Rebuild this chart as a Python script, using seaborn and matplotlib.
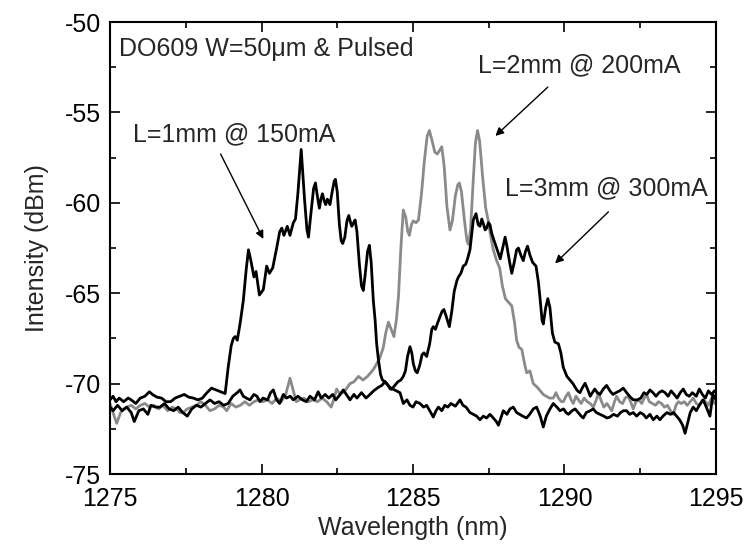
import matplotlib
matplotlib.use("Agg")
import matplotlib.pyplot as plt
import numpy as np
import pandas as pd
import seaborn as sns

# --- Spectra (wavelength in nm, intensity in dBm) ---
wl_1mm = [1275.0, 1275.1, 1275.2, 1275.3, 1275.45, 1275.6, 1275.7, 1275.85, 1276.0, 1276.15,
          1276.3, 1276.4, 1276.55, 1276.7, 1276.85, 1277.0, 1277.15, 1277.3, 1277.45, 1277.6,
          1277.75, 1277.9, 1278.05, 1278.2, 1278.35, 1278.5, 1278.65, 1278.8, 1278.9, 1279.0,
          1279.07, 1279.13, 1279.2, 1279.3, 1279.4, 1279.5, 1279.57, 1279.65, 1279.75, 1279.82,
          1279.93, 1280.06, 1280.17, 1280.26, 1280.37, 1280.5, 1280.6, 1280.67, 1280.74, 1280.85,
          1280.94, 1281.05, 1281.12, 1281.2, 1281.31, 1281.42, 1281.5, 1281.55, 1281.63, 1281.72,
          1281.78, 1281.85, 1281.91, 1281.96, 1282.01, 1282.07, 1282.12, 1282.17, 1282.21, 1282.26,
          1282.32, 1282.4, 1282.44, 1282.5, 1282.57, 1282.63, 1282.68, 1282.75, 1282.82, 1282.88,
          1282.94, 1282.98, 1283.04, 1283.09, 1283.15, 1283.23, 1283.3, 1283.36, 1283.42, 1283.5,
          1283.56, 1283.62, 1283.69, 1283.75, 1283.8, 1283.86, 1283.93, 1283.99, 1284.08, 1284.18,
          1284.25, 1284.33, 1284.45, 1284.57, 1284.68, 1284.8, 1284.9, 1285.0, 1285.1, 1285.23,
          1285.35, 1285.45, 1285.55, 1285.67, 1285.76, 1285.84, 1285.95, 1286.05, 1286.15, 1286.25,
          1286.4, 1286.55, 1286.65, 1286.75, 1286.88, 1286.99, 1287.1, 1287.21, 1287.32, 1287.43,
          1287.54, 1287.65, 1287.75, 1287.82, 1287.9, 1287.98, 1288.1, 1288.2, 1288.31, 1288.42,
          1288.52, 1288.62, 1288.75, 1288.85, 1288.97, 1289.08, 1289.2, 1289.3, 1289.4, 1289.52,
          1289.63, 1289.75, 1289.85, 1289.97, 1290.05, 1290.13, 1290.25, 1290.35, 1290.45, 1290.55,
          1290.62, 1290.72, 1290.85, 1290.95, 1291.05, 1291.17, 1291.3, 1291.4, 1291.5, 1291.62,
          1291.75, 1291.85, 1291.95, 1292.05, 1292.15, 1292.27, 1292.38, 1292.5, 1292.6, 1292.7,
          1292.82, 1292.93, 1293.05, 1293.15, 1293.25, 1293.38, 1293.5, 1293.6, 1293.7, 1293.8,
          1293.9, 1293.98, 1294.06, 1294.15, 1294.25, 1294.35, 1294.45, 1294.58, 1294.68, 1294.8,
          1294.9, 1295.0]
db_1mm = [-70.9, -70.7, -71.0, -70.8, -71.0, -70.8, -70.9, -71.1, -70.8, -70.7,
          -70.45, -70.6, -70.75, -70.8, -71.0, -71.0, -70.8, -70.7, -70.6, -70.75,
          -70.8, -70.9, -70.8, -70.5, -70.25, -70.35, -70.45, -70.55, -69.1, -67.9,
          -67.5, -67.4, -67.6, -66.6, -65.4, -63.6, -62.6, -63.2, -64.1, -63.8,
          -65.1, -64.8, -63.5, -63.9, -63.6, -62.5, -61.6, -61.4, -61.8, -61.3,
          -61.8, -61.1, -60.9, -59.5, -57.05, -59.8, -61.5, -61.9, -60.6, -59.2,
          -58.9, -59.7, -60.3, -59.8, -59.5, -59.9, -60.1, -59.8, -59.9, -60.1,
          -59.5, -58.8, -58.7, -59.4, -61.2, -62.1, -62.25, -61.9, -61.0, -60.7,
          -61.1, -61.3, -61.1, -60.95, -61.6, -63.4, -64.6, -64.85, -64.0, -62.7,
          -62.35, -63.3, -65.4, -66.5, -67.8, -68.7, -69.5, -69.8, -69.9, -70.1,
          -70.3, -70.3, -70.4, -70.5, -71.1, -70.9, -71.2, -71.3, -71.0, -71.1,
          -71.3, -71.2, -71.5, -71.85, -71.5, -71.3, -71.5, -71.2, -71.3, -71.1,
          -71.25, -70.9, -71.2, -71.3, -71.6, -71.7, -71.8, -72.0, -71.8, -71.9,
          -71.7, -71.9, -72.1, -72.3, -71.9, -71.5, -71.7, -71.4, -71.3, -71.6,
          -71.7, -71.8, -71.9, -71.7, -71.4, -71.3, -71.8, -72.4, -71.8, -71.4,
          -71.1, -71.3, -71.5, -71.4, -71.6, -71.7, -71.5, -71.4, -71.6, -71.8,
          -71.9, -71.6, -71.5, -71.4, -71.6, -71.7, -71.8, -71.9, -71.85, -71.7,
          -71.8, -71.6, -71.5, -71.5, -71.7, -71.6, -71.8, -71.6, -71.7, -71.9,
          -71.7, -72.0, -71.8, -72.0, -71.8, -71.6, -71.7, -71.6, -71.8, -72.0,
          -72.3, -72.75, -72.2, -71.6, -71.3, -71.5, -71.2, -70.9, -71.3, -71.8,
          -70.6, -70.9]

wl_2mm = [1275.0, 1275.1, 1275.22, 1275.35, 1275.45, 1275.55, 1275.7, 1275.85, 1276.0, 1276.15,
          1276.3, 1276.45, 1276.6, 1276.75, 1276.9, 1277.05, 1277.2, 1277.3, 1277.42, 1277.55,
          1277.7, 1277.85, 1278.0, 1278.15, 1278.3, 1278.45, 1278.6, 1278.75, 1278.85, 1279.0,
          1279.15, 1279.3, 1279.45, 1279.6, 1279.75, 1279.9, 1280.05, 1280.2, 1280.35, 1280.5,
          1280.65, 1280.8, 1280.94, 1281.05, 1281.15, 1281.25, 1281.4, 1281.55, 1281.7, 1281.85,
          1282.0, 1282.15, 1282.3, 1282.4, 1282.48, 1282.6, 1282.75, 1282.92, 1283.05, 1283.2,
          1283.35, 1283.5, 1283.6, 1283.7, 1283.8, 1283.9, 1284.02, 1284.1, 1284.19, 1284.28,
          1284.37, 1284.45, 1284.52, 1284.6, 1284.68, 1284.76, 1284.83, 1284.88, 1284.95, 1285.01,
          1285.1, 1285.18, 1285.28, 1285.38, 1285.47, 1285.54, 1285.62, 1285.72, 1285.8, 1285.88,
          1285.95, 1286.03, 1286.12, 1286.22, 1286.3, 1286.4, 1286.48, 1286.53, 1286.6, 1286.7,
          1286.78, 1286.83, 1286.9, 1286.98, 1287.06, 1287.13, 1287.2, 1287.3, 1287.4, 1287.48,
          1287.56, 1287.65, 1287.76, 1287.86, 1287.95, 1288.05, 1288.15, 1288.26, 1288.35, 1288.42,
          1288.5, 1288.59, 1288.67, 1288.75, 1288.86, 1288.97, 1289.1, 1289.2, 1289.3, 1289.4,
          1289.5, 1289.63, 1289.72, 1289.8, 1289.9, 1289.96, 1290.05, 1290.13, 1290.22, 1290.29,
          1290.38, 1290.46, 1290.55, 1290.65, 1290.75, 1290.85, 1290.95, 1291.05, 1291.12, 1291.2,
          1291.3, 1291.4, 1291.48, 1291.56, 1291.65, 1291.72, 1291.82, 1291.92, 1292.0, 1292.1,
          1292.18, 1292.27, 1292.36, 1292.45, 1292.55, 1292.63, 1292.71, 1292.8, 1292.9, 1293.0,
          1293.1, 1293.2, 1293.3, 1293.4, 1293.5, 1293.59, 1293.68, 1293.76, 1293.85, 1293.95,
          1294.05, 1294.15, 1294.25, 1294.35, 1294.45, 1294.55, 1294.65, 1294.75, 1294.85, 1294.95,
          1295.0]
db_2mm = [-71.1, -71.6, -72.2, -71.6, -71.4, -71.3, -71.2, -71.4, -71.2, -71.1,
          -71.3, -71.2, -71.4, -71.2, -71.5, -71.3, -71.4, -71.6, -71.6, -71.4,
          -71.3, -71.2, -71.0, -71.2, -71.5, -71.4, -71.2, -71.3, -71.5, -71.1,
          -71.3, -71.2, -71.0, -71.2, -71.0, -70.9, -71.0, -70.9, -71.1, -70.8,
          -71.0, -70.6, -69.7, -70.4, -71.0, -70.9, -70.8, -71.0, -70.9, -71.0,
          -70.8, -71.0, -71.3, -70.8, -70.3, -70.6, -70.4, -70.0, -69.9, -69.6,
          -69.8, -69.6, -69.4, -69.2, -68.9, -68.6, -68.0, -67.2, -66.6, -67.0,
          -67.4, -66.5, -65.2, -62.5, -60.4, -60.8, -61.6, -61.8, -61.2, -61.0,
          -61.1, -60.95, -59.5, -57.6, -56.3, -56.0, -56.5, -57.2, -57.3, -57.1,
          -56.9, -58.0, -60.2, -61.5, -61.0, -59.6, -59.0, -58.9, -59.4, -61.0,
          -62.1, -62.3, -61.5, -59.0, -56.7, -56.0, -56.6, -58.6, -60.3, -60.95,
          -61.8, -62.6, -63.2, -63.6, -64.6, -65.3, -65.5, -65.7, -66.6, -67.6,
          -68.0, -68.1, -68.8, -69.4, -69.3, -70.0, -70.2, -70.4, -70.6, -70.7,
          -70.8, -70.8, -70.5, -70.8, -71.0, -71.0, -70.7, -70.5, -70.9, -71.1,
          -70.7, -70.9, -71.1, -70.8, -71.0, -71.1, -71.3, -70.9, -70.5, -70.9,
          -71.3, -71.1, -71.3, -71.5, -71.0, -70.7, -71.0, -71.1, -70.8, -70.7,
          -71.0, -71.4, -71.0, -70.9, -71.1, -70.8, -70.6, -71.0, -71.1, -71.2,
          -71.0, -71.1, -71.3, -71.2, -71.5, -71.7, -71.2, -71.0, -71.1, -71.0,
          -71.2, -71.0, -70.8, -71.1, -71.2, -70.9, -71.0, -71.2, -70.8, -71.1,
          -71.0]

wl_3mm = [1275.0, 1275.1, 1275.25, 1275.4, 1275.55, 1275.7, 1275.8, 1275.95, 1276.1, 1276.25,
          1276.35, 1276.5, 1276.65, 1276.8, 1276.95, 1277.1, 1277.25, 1277.4, 1277.55, 1277.7,
          1277.85, 1278.0, 1278.15, 1278.3, 1278.45, 1278.6, 1278.75, 1278.9, 1279.05, 1279.2,
          1279.29, 1279.4, 1279.5, 1279.62, 1279.75, 1279.85, 1279.95, 1280.05, 1280.2, 1280.3,
          1280.39, 1280.5, 1280.6, 1280.72, 1280.82, 1280.95, 1281.05, 1281.2, 1281.35, 1281.48,
          1281.6, 1281.75, 1281.87, 1281.97, 1282.1, 1282.22, 1282.35, 1282.45, 1282.55, 1282.7,
          1282.8, 1282.92, 1283.05, 1283.15, 1283.3, 1283.45, 1283.58, 1283.7, 1283.86, 1283.97,
          1284.08, 1284.18, 1284.3, 1284.4, 1284.5, 1284.6, 1284.68, 1284.75, 1284.82, 1284.9,
          1284.96, 1285.01, 1285.08, 1285.14, 1285.22, 1285.3, 1285.36, 1285.45, 1285.55, 1285.62,
          1285.67, 1285.74, 1285.8, 1285.89, 1285.96, 1286.02, 1286.1, 1286.2, 1286.28, 1286.36,
          1286.45, 1286.5, 1286.58, 1286.66, 1286.74, 1286.8, 1286.88, 1286.94, 1286.99, 1287.08,
          1287.15, 1287.21, 1287.27, 1287.33, 1287.38, 1287.43, 1287.49, 1287.54, 1287.6, 1287.67,
          1287.74, 1287.82, 1287.88, 1287.96, 1288.04, 1288.1, 1288.18, 1288.26, 1288.34, 1288.42,
          1288.48, 1288.56, 1288.64, 1288.71, 1288.78, 1288.86, 1288.95, 1289.06, 1289.14, 1289.2,
          1289.26, 1289.3, 1289.38, 1289.45, 1289.52, 1289.6, 1289.68, 1289.8, 1289.88, 1289.96,
          1290.08, 1290.18, 1290.28, 1290.35, 1290.43, 1290.51, 1290.6, 1290.68, 1290.76, 1290.85,
          1290.92, 1291.0, 1291.08, 1291.17, 1291.28, 1291.39, 1291.5, 1291.6, 1291.7, 1291.82,
          1291.94, 1292.05, 1292.15, 1292.27, 1292.4, 1292.52, 1292.62, 1292.72, 1292.82, 1292.92,
          1293.02, 1293.12, 1293.22, 1293.32, 1293.42, 1293.52, 1293.62, 1293.72, 1293.82, 1293.92,
          1294.02, 1294.12, 1294.22, 1294.35, 1294.45, 1294.55, 1294.65, 1294.75, 1294.85, 1294.95,
          1295.0]
db_3mm = [-71.3, -71.5, -71.2, -71.5, -71.3, -71.6, -72.1, -71.5, -71.4, -71.7,
          -71.2, -71.3, -71.3, -71.1, -71.4, -71.5, -71.3, -71.6, -71.8, -71.4,
          -71.2, -71.3, -71.1, -70.9, -71.1, -71.0, -71.2, -71.1, -70.7, -70.5,
          -70.35, -70.7, -70.8, -70.9, -70.6, -70.7, -71.0, -70.8, -70.9, -70.5,
          -70.35, -70.9, -71.1, -70.6, -70.8, -70.7, -70.9, -70.7, -70.9, -71.0,
          -70.7, -70.9, -70.45, -70.8, -70.6, -70.8, -70.6, -70.9, -70.7, -70.35,
          -70.6, -70.9, -70.6, -70.8, -70.5, -70.8, -70.6, -70.4, -70.2, -70.1,
          -69.9, -70.1, -70.3, -70.1, -69.9, -69.8, -69.6, -69.3, -68.5, -67.96,
          -68.3, -68.9, -69.3, -69.4, -69.0, -68.4, -68.3, -68.5, -67.8, -67.0,
          -66.85, -67.0, -66.7, -66.3, -66.0, -65.9, -66.3, -66.85, -66.0, -64.9,
          -64.3, -64.1, -63.9, -63.5, -63.4, -63.1, -62.6, -61.7, -60.95, -60.6,
          -61.2, -61.3, -60.9, -61.2, -61.5, -61.4, -61.1, -61.2, -61.7, -62.06,
          -62.4, -62.8, -63.1, -62.5, -61.9, -62.4, -63.2, -63.9, -63.3, -62.6,
          -62.5, -62.9, -63.2, -62.7, -62.4, -62.9, -63.3, -63.5, -64.4, -65.4,
          -66.5, -66.7, -65.8, -65.3, -65.8, -67.2, -67.7, -67.8, -68.3, -69.1,
          -69.6, -69.8, -70.0, -70.2, -70.4, -70.5, -70.2, -69.98, -70.3, -70.7,
          -70.5, -70.3, -70.5, -70.6, -70.3, -70.1, -70.4, -70.6, -70.5, -70.4,
          -70.25, -70.5, -70.7, -70.9, -70.9, -70.8, -70.5, -70.6, -70.35, -70.5,
          -70.7, -70.5, -70.4, -70.5, -70.7, -70.4, -70.6, -70.8, -70.5, -70.3,
          -70.6, -70.7, -70.5, -70.7, -70.3, -70.6, -70.8, -70.4, -70.6, -70.4,
          -70.5]

series_names = ["L=1mm @ 150mA", "L=2mm @ 200mA", "L=3mm @ 300mA"]
series_colors = ["black", "#8a8a8a", "black"]

x_ticks = [1275, 1280, 1285, 1290, 1295]
y_ticks = [-75, -70, -65, -60, -55, -50]

frames = []
for name, wl, db in zip(series_names, [wl_1mm, wl_2mm, wl_3mm], [db_1mm, db_2mm, db_3mm]):
    frames.append(pd.DataFrame({"wavelength": wl, "intensity": db, "device": name}))
spectra = pd.concat(frames, ignore_index=True)

sns.set_theme(style="ticks")
plt.rcParams["font.family"] = ["Liberation Sans", "DejaVu Sans"]

fig = plt.figure(figsize=(7.52, 5.57), dpi=100)
ax = fig.add_axes([0.1463, 0.149, 0.8058, 0.8115])

# gray trace first, black traces drawn over it
draw_order = [series_names[1], series_names[0], series_names[2]]
for name in draw_order:
    idx = series_names.index(name)
    sub = spectra[spectra["device"] == name]
    sns.lineplot(data=sub, x="wavelength", y="intensity", ax=ax,
                 color=series_colors[idx], linewidth=2.0, sort=False,
                 estimator=None, legend=False)

ax.set_xlim(1275, 1295)
ax.set_ylim(-75, -50)
ax.set_xticks(x_ticks)
ax.set_yticks(y_ticks)
ax.set_xticks(np.arange(1277.5, 1295, 5), minor=True)
ax.set_yticks(np.arange(-72.5, -50, 5), minor=True)
ax.set_xticklabels([str(t) for t in x_ticks])
ax.set_yticklabels([str(t) for t in y_ticks])

ax.tick_params(which="both", direction="in", top=True, right=True,
               labelsize=18, colors="black", width=1.2)
ax.tick_params(which="major", length=7)
ax.tick_params(which="minor", length=4)
ax.tick_params(axis="x", which="major", pad=9)
ax.tick_params(axis="y", which="major", pad=6.5)
for sp in ax.spines.values():
    sp.set_linewidth(1.5)
    sp.set_color("black")

ax.set_xlabel("Wavelength (nm)", fontsize=18, labelpad=4)
ax.set_ylabel("Intensity (dBm)", fontsize=18, labelpad=11)

ax.text(1275.3, -51.5, "DO609 W=50μm & Pulsed", fontsize=18, ha="left", va="center")

arrow = dict(arrowstyle="-|>", color="black", lw=1.0, mutation_scale=12,
             shrinkA=0, shrinkB=0)
ax.text(1275.75, -56.2, "L=1mm @ 150mA", fontsize=18, ha="left", va="center")
ax.annotate("", xy=(1280.06, -62.0), xytext=(1278.65, -57.3), arrowprops=arrow)

ax.text(1287.15, -52.4, "L=2mm @ 200mA", fontsize=18, ha="left", va="center")
ax.annotate("", xy=(1287.72, -56.3), xytext=(1289.45, -53.6), arrowprops=arrow)

ax.text(1288.05, -59.2, "L=3mm @ 300mA", fontsize=18, ha="left", va="center")
ax.annotate("", xy=(1289.69, -63.35), xytext=(1291.45, -60.5), arrowprops=arrow)

fig.savefig("out.png", dpi=100)
